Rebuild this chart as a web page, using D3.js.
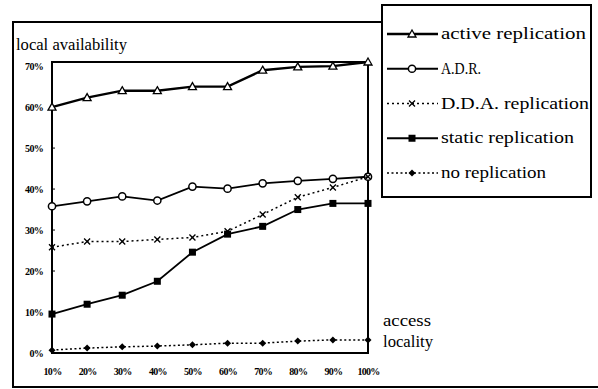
<!DOCTYPE html>
<html>
<head>
<meta charset="utf-8">
<script src="https://cdn.jsdelivr.net/npm/d3@7"></script>
<style>
  body { margin: 0; background: #fff; }
  svg { display: block; }
</style>
</head>
<body>
<script>
// access locality (x) categories
let locality = [10, 20, 30, 40, 50, 60, 70, 80, 90, 100];
let yTicks = [0, 10, 20, 30, 40, 50, 60, 70];

// local availability (%) per scheme
let activeReplication = [60, 62.3, 64, 64, 65, 65, 69, 69.8, 70, 71];
let adr = [35.8, 37, 38.2, 37.2, 40.6, 40.1, 41.4, 42, 42.5, 43];
let ddaReplication = [25.8, 27.2, 27.2, 27.7, 28.2, 29.7, 33.8, 38, 40.4, 43];
let staticReplication = [9.5, 11.9, 14.1, 17.5, 24.6, 29, 30.9, 35, 36.5, 36.5];
let noReplication = [0.7, 1.2, 1.5, 1.7, 2, 2.4, 2.4, 2.9, 3.2, 3.2];

let seriesNames = ["active replication", "A.D.R.", "D.D.A. replication", "static replication", "no replication"];

let serif = "'Times New Roman', Times, 'Liberation Serif', 'DejaVu Serif', serif";

let series = [
    {name: seriesNames[0], values: activeReplication, marker: "triangle", dash: null, width: 2.4, textW: 145},
    {name: seriesNames[1], values: adr, marker: "circle", dash: null, width: 1.8, textW: 40},
    {name: seriesNames[2], values: ddaReplication, marker: "cross", dash: "2,3", width: 1.5, textW: 148},
    {name: seriesNames[3], values: staticReplication, marker: "square", dash: null, width: 1.8, textW: 133},
    {name: seriesNames[4], values: noReplication, marker: "diamond", dash: "2,2.5", width: 1.5, textW: 105}
];

let width = 598, height = 389;

let svg = d3.select("body").append("svg").attr("width", width).attr("height", height)
    .attr("font-family", serif);

let x = d3.scaleLinear().domain([10, 100]).range([52, 368]);
let y = d3.scaleLinear().domain([0, 71]).range([353, 62]);

// outer frame (scanned figure border)
svg.append("path")
    .attr("d", "M382,22 L13,22 L13,387 L598,387")
    .attr("fill", "none").attr("stroke", "#000").attr("stroke-width", 2);

// plot frame
svg.append("rect")
    .attr("x", x(10)).attr("y", y(71))
    .attr("width", x(100) - x(10)).attr("height", y(0) - y(71))
    .attr("fill", "none").attr("stroke", "#000").attr("stroke-width", 2);

function styleTicks(sel) {
    sel.attr("font-family", serif);
    sel.selectAll("text")
        .attr("font-family", serif).attr("font-weight", "bold")
        .attr("font-size", 10).attr("letter-spacing", "-0.7px")
        .attr("fill", "#000");
}

// y axis labels and little inner ticks
let yAxis = d3.axisLeft(y).tickValues(yTicks).tickSize(0).tickPadding(9).tickFormat(d => d + "%");
let yG = svg.append("g").attr("transform", `translate(${x(10)},0)`).call(yAxis);
yG.select(".domain").remove();
styleTicks(yG);
svg.selectAll(".ytk").data(yTicks.slice(1, -1)).enter().append("line")
    .attr("x1", x(10)).attr("x2", x(10) + 3)
    .attr("y1", d => y(d)).attr("y2", d => y(d))
    .attr("stroke", "#000").attr("stroke-width", 1);

let xAxis = d3.axisBottom(x).tickValues(locality).tickSize(0).tickPadding(15).tickFormat(d => d + "%");
let xG = svg.append("g").attr("transform", `translate(0,${y(0)})`).call(xAxis);
xG.select(".domain").remove();
styleTicks(xG);

// axis titles
function title(tx, ty, str, w) {
    svg.append("text").attr("x", tx).attr("y", ty)
        .attr("font-family", serif).attr("font-size", 16)
        .attr("textLength", w).attr("lengthAdjust", "spacingAndGlyphs")
        .text(str);
}
title(16, 50, "local availability", 111);
title(383, 326, "access", 48);
title(383, 347, "locality", 50);

function drawMarker(g, type, cx, cy) {
    if (type === "triangle") {
        g.append("path").attr("d", `M${cx},${cy - 4} L${cx + 4},${cy + 3} L${cx - 4},${cy + 3} Z`)
            .attr("fill", "#fff").attr("stroke", "#000").attr("stroke-width", 1.3);
    } else if (type === "circle") {
        g.append("circle").attr("cx", cx).attr("cy", cy).attr("r", 3.6)
            .attr("fill", "#fff").attr("stroke", "#000").attr("stroke-width", 1.5);
    } else if (type === "cross") {
        g.append("path").attr("d", `M${cx - 3},${cy - 3} L${cx + 3},${cy + 3} M${cx - 3},${cy + 3} L${cx + 3},${cy - 3}`)
            .attr("stroke", "#000").attr("stroke-width", 1.3);
    } else if (type === "square") {
        g.append("rect").attr("x", cx - 3.5).attr("y", cy - 3.5).attr("width", 7).attr("height", 7)
            .attr("fill", "#000");
    } else if (type === "diamond") {
        g.append("path").attr("d", `M${cx},${cy - 3.5} L${cx + 3.5},${cy} L${cx},${cy + 3.5} L${cx - 3.5},${cy} Z`)
            .attr("fill", "#000");
    }
}

let line = d3.line()
    .x((d, i) => x(locality[i]))
    .y(d => y(d));

series.forEach(s => {
    let g = svg.append("g");
    g.append("path").attr("d", line(s.values))
        .attr("fill", "none").attr("stroke", "#000")
        .attr("stroke-width", s.width)
        .attr("stroke-dasharray", s.dash);
    s.values.forEach((v, i) => drawMarker(g, s.marker, x(locality[i]), y(v)));
});

// legend
let legend = svg.append("g");
legend.append("rect").attr("x", 382).attr("y", 5).attr("width", 209).attr("height", 192)
    .attr("fill", "#fff").attr("stroke", "#000").attr("stroke-width", 2);
let legendY = d3.scalePoint().domain(seriesNames).range([34, 173]);
series.forEach(s => {
    let ly = legendY(s.name);
    legend.append("line").attr("x1", 387).attr("x2", 438).attr("y1", ly).attr("y2", ly)
        .attr("stroke", "#000").attr("stroke-width", s.width).attr("stroke-dasharray", s.dash);
    drawMarker(legend, s.marker, 412, ly);
    legend.append("text").attr("x", 441).attr("y", ly + 5)
        .attr("font-family", serif).attr("font-size", 16)
        .attr("textLength", s.textW).attr("lengthAdjust", "spacingAndGlyphs")
        .text(s.name);
});
</script>
</body>
</html>
